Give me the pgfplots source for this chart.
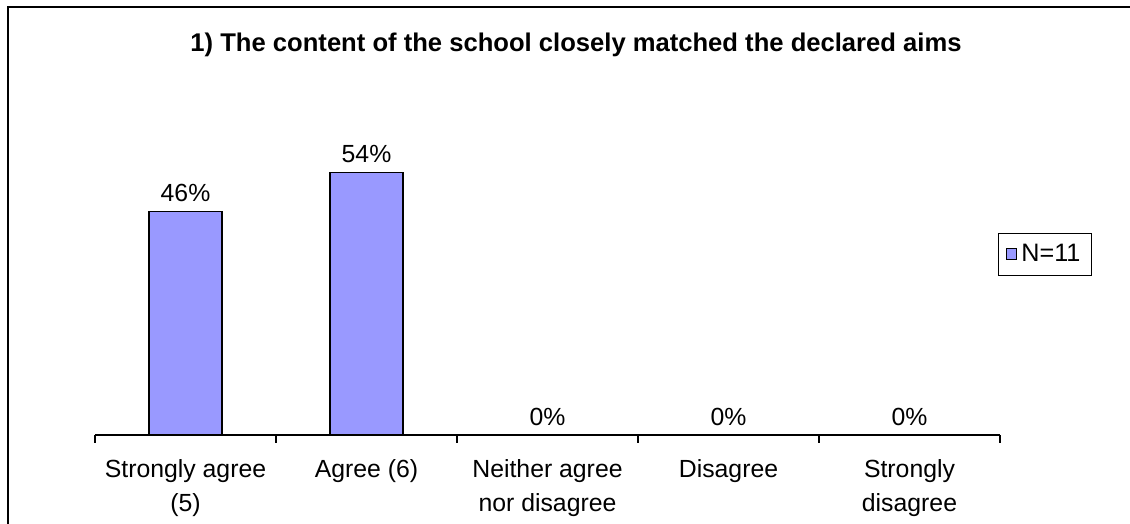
\documentclass[border=0pt]{standalone}
\usepackage{pgfplots}
\pgfplotsset{compat=1.18}
\usepackage{fontspec}
\setmainfont{Liberation Sans}
\definecolor{barblue}{HTML}{9999FF}
\begin{document}
\begin{tikzpicture}[x=1pt,y=1pt]
\useasboundingbox (0,0) rectangle (565,262);
\draw[line width=1pt] (4,-2) -- (4,258.5) -- (567,258.5);
\node[font=\bfseries\fontsize{12.8}{15}\selectfont] at (288,239.5) {1) The content of the school closely matched the declared aims};
\begin{axis}[
  at={(47.5pt,44.5pt)}, anchor=south west,
  scale only axis, width=452.5pt, height=145.8pt,
  xmin=-0.5, xmax=4.5, ymin=0, ymax=60,
  axis x line=bottom, axis y line=none,
  x axis line style={-, line width=0.6pt},
  xtick={0,1,2,3,4},
  xticklabels={{Strongly agree\\(5)},{Agree (6)},{Neither agree\\nor disagree},{Disagree},{Strongly\\disagree}},
  major tick length=0pt,
  minor xtick={-0.5,0.5,1.5,2.5,3.5,4.5},
  minor tick length=4pt, tick align=outside,
  minor tick style={line width=0.6pt, black},
  xticklabel style={align=center, font=\fontsize{12.4}{17}\selectfont, yshift=-8.5pt},
  /pgf/number format/assume math mode=true,
  ybar, bar width=0.403,
  nodes near coords={\pgfmathprintnumber{\pgfplotspointmeta}\%},
  every node near coord/.append style={font=\fontsize{12.4}{14}\selectfont, black, yshift=1pt},
  legend style={at={(1.0497,0.62)}, anchor=center, draw=black, line width=0.5pt, font=\fontsize{12.6}{14}\selectfont, inner xsep=3.5pt, inner ysep=3.5pt},
  legend image code/.code={\draw[fill=barblue, line width=0.5pt] (0pt,-2.7pt) rectangle (5.4pt,2.7pt);},
  clip=false,
]
\addplot[fill=barblue, draw=black, line width=0.7pt] coordinates {(0,46) (1,54) (2,0) (3,0) (4,0)};
\addlegendentry{N=11}
\end{axis}
\end{tikzpicture}
\end{document}
